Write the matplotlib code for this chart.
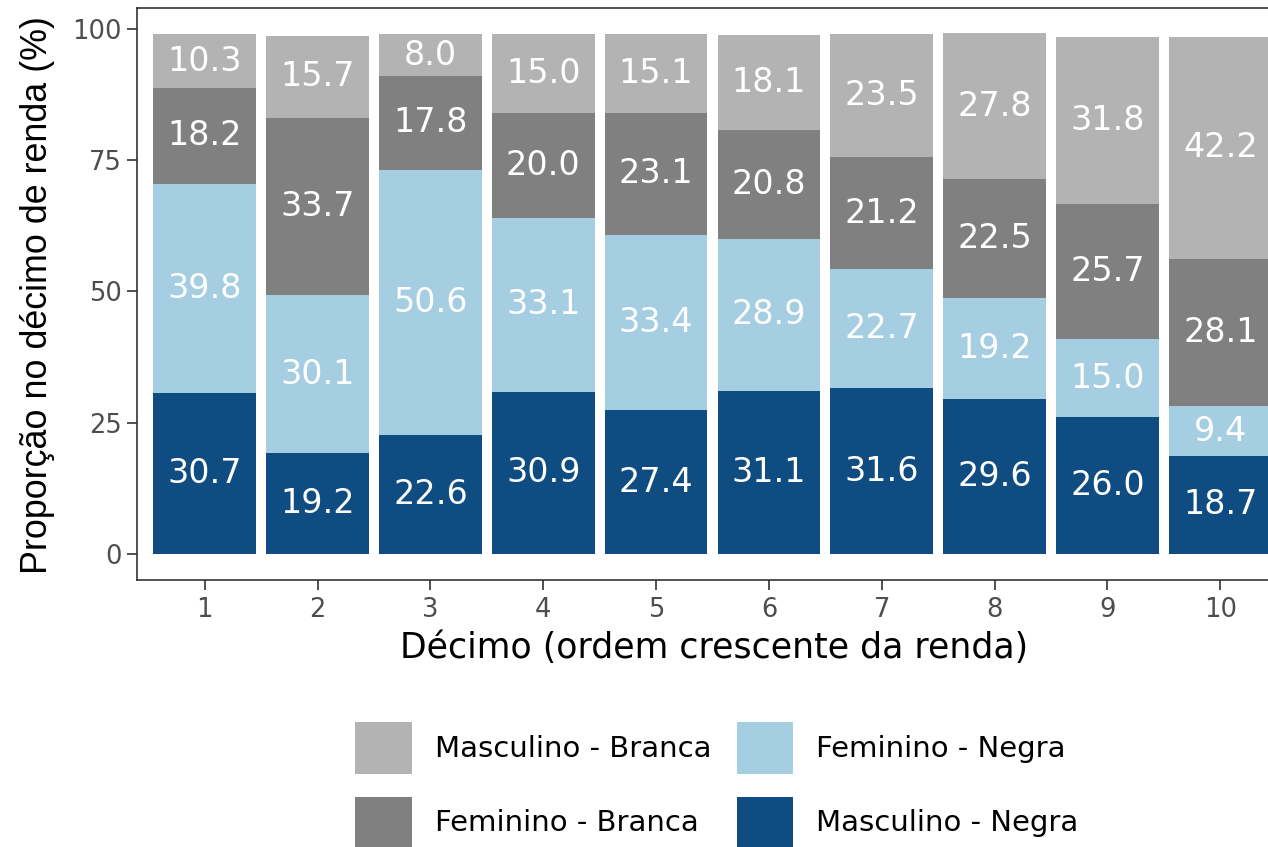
import matplotlib
matplotlib.use("Agg")
import matplotlib.pyplot as plt
import numpy as np
from matplotlib.patches import Patch

plt.rcParams['font.family'] = ['DejaVu Sans']

decimos = [1, 2, 3, 4, 5, 6, 7, 8, 9, 10]
masculino_negra = [30.7, 19.2, 22.6, 30.9, 27.4, 31.1, 31.6, 29.6, 26.0, 18.7]
feminino_negra = [39.8, 30.1, 50.6, 33.1, 33.4, 28.9, 22.7, 19.2, 15.0, 9.4]
feminino_branca = [18.2, 33.7, 17.8, 20.0, 23.1, 20.8, 21.2, 22.5, 25.7, 28.1]
masculino_branca = [10.3, 15.7, 8.0, 15.0, 15.1, 18.1, 23.5, 27.8, 31.8, 42.2]

series = [
    ("Masculino - Negra", masculino_negra, "#0f4c81"),
    ("Feminino - Negra", feminino_negra, "#a6cee3"),
    ("Feminino - Branca", feminino_branca, "#808080"),
    ("Masculino - Branca", masculino_branca, "#b3b3b3"),
]

fig = plt.figure(figsize=(12.68, 8.47), dpi=100)
ax = fig.add_axes([137/1268, 1 - 580/847, 1151/1268, (580 - 8)/847])

x = np.array(decimos)
bottom = np.zeros(len(x))
for name, vals, color in series:
    vals = np.array(vals)
    ax.bar(x, vals, width=0.91, bottom=bottom, color=color, label=name, linewidth=0)
    for xi, b, v in zip(x, bottom, vals):
        ax.text(xi, b + v / 2, f"{v:.1f}", ha="center", va="center",
                color="white", fontsize=24)
    bottom = bottom + vals

ax.set_xlim(0.4, 10.6)
ax.set_ylim(-4.95, 103.95)
ax.set_xticks(decimos)
ax.set_xticklabels([str(d) for d in decimos])
ax.set_yticks([0, 25, 50, 75, 100])
ax.tick_params(axis="both", labelsize=18.5, labelcolor="#4d4d4d", color="#333333",
               length=7, width=1.2, direction="out")
ax.tick_params(axis="x", pad=5)
ax.tick_params(axis="y", pad=4)
for s in ax.spines.values():
    s.set_color("#333333")
    s.set_linewidth(1.2)

ax.set_xlabel("Décimo (ordem crescente da renda)", fontsize=25, color="black")
ax.xaxis.set_label_coords(0.501, -0.090)
ax.set_ylabel("Proporção no décimo de renda (%)", fontsize=25.8, color="black",
              family=["Liberation Sans", "DejaVu Sans"])
ax.yaxis.set_label_coords(-0.071, 0.499)

handles = [Patch(facecolor="#b3b3b3", label="Masculino - Branca"),
           Patch(facecolor="#808080", label="Feminino - Branca"),
           Patch(facecolor="#a6cee3", label="Feminino - Negra"),
           Patch(facecolor="#0f4c81", label="Masculino - Negra")]
fig.legend(handles=handles, ncol=2, frameon=False, fontsize=21,
           loc="upper left", bbox_to_anchor=(355/1268, 1 - 722/847),
           borderpad=0, borderaxespad=0,
           handlelength=1.95, handleheight=2.34, handletextpad=0.79,
           columnspacing=0.86, labelspacing=0.79)

fig.savefig("out.png", dpi=100)
